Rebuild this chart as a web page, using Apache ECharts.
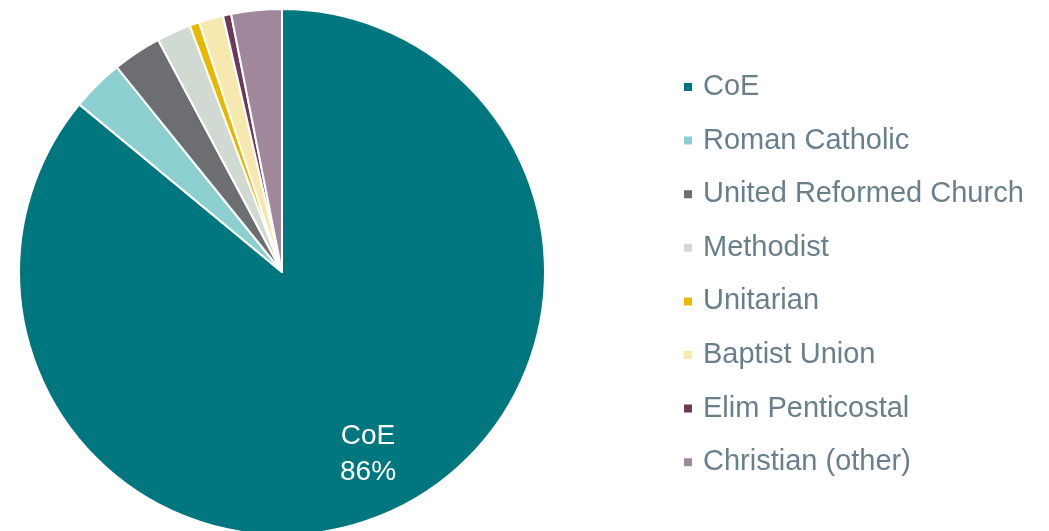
<!DOCTYPE html>
<html>
<head>
<meta charset="utf-8">
<script src="https://cdn.jsdelivr.net/npm/echarts@6/dist/echarts.min.js"></script>
<style>
  html, body { margin: 0; padding: 0; background: #fff; }
  #chart { width: 1049px; height: 531px; }
</style>
</head>
<body>
<div id="chart"></div>
<script>
// denominations, clockwise from 12 o'clock
const names = ['CoE', 'Roman Catholic', 'United Reformed Church', 'Methodist', 'Unitarian', 'Baptist Union', 'Elim Penticostal', 'Christian (other)']
const shares = [86, 3.2, 3.0, 2.1, 0.6, 1.5, 0.5, 3.1]
const colors = ['#00777f', '#8bcfd0', '#6d6e71', '#d0dad3', '#e8b800', '#f7e8b0', '#6b3a5a', '#a1879b']
const labelled = ['CoE']

const chart = echarts.init(document.getElementById('chart'))

const pieData = names.map((n, i) => ({
  name: n,
  value: shares[i],
  itemStyle: { color: colors[i] }
}))

// invisible ring only used to sit the label further out than the default
const labelData = names.map((n, i) => ({
  name: n,
  value: shares[i],
  label: { show: labelled.indexOf(n) >= 0 }
}))

chart.setOption({
  animation: false,
  color: colors,
  legend: {
    orient: 'vertical',
    left: 682,
    top: 71,
    padding: 0,
    data: names,
    icon: 'rect',
    itemWidth: 10,
    itemHeight: 10,
    itemGap: 21.6,
    textStyle: {
      fontFamily: 'Liberation Sans, Arial, sans-serif',
      fontSize: 29,
      lineHeight: 32,
      padding: [0, 0, 0, 5],
      color: '#6a7f8c'
    },
    selectedMode: false
  },
  series: [
    {
      type: 'pie',
      center: [282, 272],
      radius: 263,
      startAngle: 90,
      clockwise: true,
      label: { show: false },
      labelLine: { show: false },
      itemStyle: { borderColor: '#fff', borderWidth: 2 },
      emphasis: { disabled: true },
      data: pieData
    },
    {
      type: 'pie',
      center: [282, 272],
      radius: [135, 263],
      startAngle: 90,
      clockwise: true,
      silent: true,
      legendHoverLink: false,
      itemStyle: { color: 'rgba(0,0,0,0)' },
      labelLine: { show: false },
      label: {
        position: 'inside',
        formatter: p => p.name + '\n' + Math.round(p.value) + '%',
        color: '#fff',
        fontFamily: 'Liberation Sans, Arial, sans-serif',
        fontSize: 28,
        lineHeight: 36
      },
      emphasis: { disabled: true },
      data: labelData
    }
  ]
})
</script>
</body>
</html>
